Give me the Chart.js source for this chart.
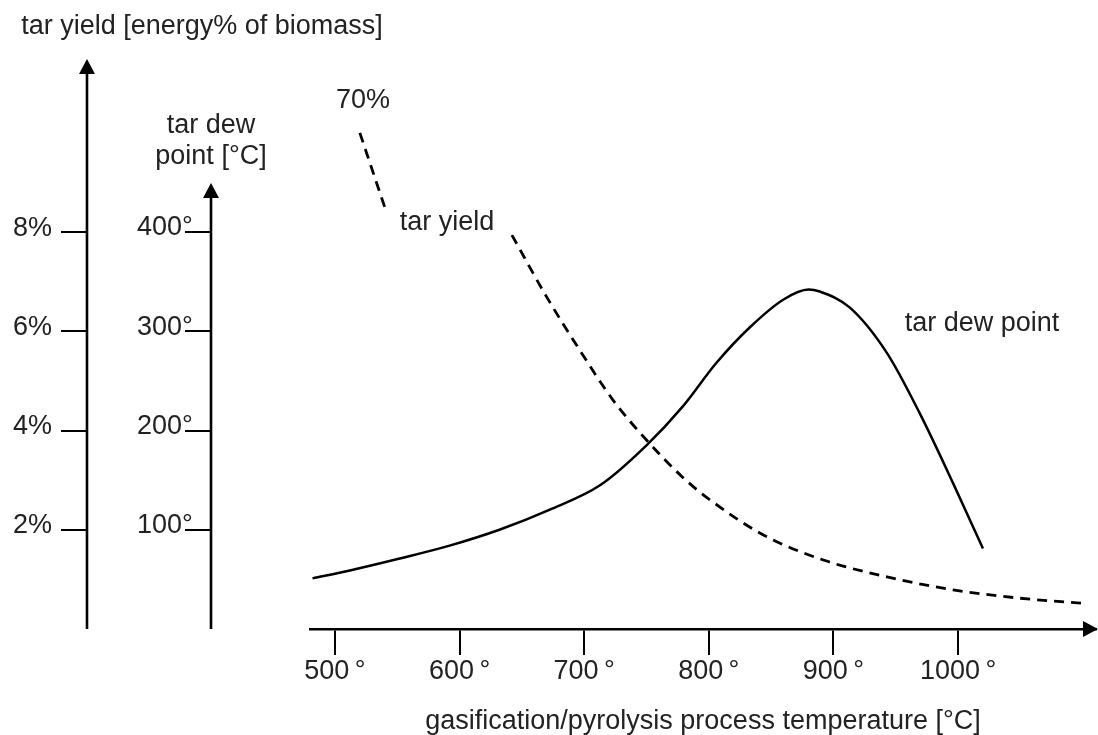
<!DOCTYPE html>
<html>
<head>
<meta charset="utf-8">
<title>tar yield and tar dew point</title>
<script src="https://cdn.jsdelivr.net/npm/chart.js@4.4.1/dist/chart.umd.min.js"></script>
<style>
  html, body { margin: 0; padding: 0; background: #fff; }
  canvas { display: block; }
</style>
</head>
<body>
<canvas id="chart" width="1098" height="735"></canvas>
<script>
// axis ticks
const tempTicks = [500, 600, 700, 800, 900, 1000];
const yieldTicks = [2, 4, 6, 8];
const dewTicks = [100, 200, 300, 400];

// tar dew point [°C] vs process temperature [°C]
const dewTemps = [482, 512, 552, 592, 632, 672, 713, 750, 779, 806, 833, 860, 880, 889, 913, 943, 969, 996, 1020];
const dewPoint = [51, 59, 71, 84, 100, 120, 145, 185, 224, 268, 304, 332, 342, 340, 324, 278, 218, 147, 81];

// tar yield [energy% of biomass]; null = gap left for the "tar yield" label
const yieldTemps = [520, 540, 591, 642, 670, 697, 723, 750, 779, 799, 845, 892, 943, 996, 1050, 1099];
const yieldPct = [10.0, 8.5, null, 7.94, 6.69, 5.6, 4.62, 3.81, 3.06, 2.64, 1.88, 1.39, 1.05, 0.79, 0.62, 0.52];

const FONT = '"Liberation Sans", Arial, Helvetica, sans-serif';
const INK = '#222';
const FS = 27;
const textFont = { family: FONT, size: FS };

const AXIS_W = 2.6;
const YIELD_AXIS_X = 87;
const DEW_AXIS_X = 211;

function arrowUp(ctx, x, tipY) {
    ctx.beginPath();
    ctx.moveTo(x, tipY);
    ctx.lineTo(x - 8, tipY + 15);
    ctx.lineTo(x + 8, tipY + 15);
    ctx.closePath();
    ctx.fill();
}

function arrowRight(ctx, tipX, y) {
    ctx.beginPath();
    ctx.moveTo(tipX, y);
    ctx.lineTo(tipX - 15, y - 8);
    ctx.lineTo(tipX - 15, y + 8);
    ctx.closePath();
    ctx.fill();
}

const axesPlugin = {
    id: 'axesPlugin',
    afterDraw(chart) {
        const { ctx, chartArea, scales } = chart;
        const bottom = chartArea.bottom;
        ctx.save();
        ctx.strokeStyle = '#000';
        ctx.fillStyle = '#000';
        ctx.lineWidth = AXIS_W;

        // vertical axes
        ctx.beginPath();
        ctx.moveTo(YIELD_AXIS_X, bottom);
        ctx.lineTo(YIELD_AXIS_X, 72);
        ctx.moveTo(DEW_AXIS_X, bottom);
        ctx.lineTo(DEW_AXIS_X, 196);
        ctx.stroke();
        arrowUp(ctx, YIELD_AXIS_X, 59);
        arrowUp(ctx, DEW_AXIS_X, 183);

        // tick marks on the left of each vertical axis
        ctx.lineWidth = 2;
        ctx.beginPath();
        yieldTicks.forEach((v) => {
            const y = Math.round(scales.yYield.getPixelForValue(v));
            ctx.moveTo(61, y);
            ctx.lineTo(YIELD_AXIS_X, y);
        });
        dewTicks.forEach((v) => {
            const y = Math.round(scales.yDew.getPixelForValue(v));
            ctx.moveTo(185, y);
            ctx.lineTo(DEW_AXIS_X, y);
        });
        ctx.stroke();

        // x axis arrow
        arrowRight(ctx, 1098, bottom);

        // labels
        ctx.fillStyle = INK;
        ctx.font = `${FS}px ${FONT}`;
        ctx.textAlign = 'center';
        ctx.textBaseline = 'middle';
        ctx.fillText('tar yield [energy% of biomass]', 202, 27);
        ctx.fillText('tar dew', 211, 126);
        ctx.fillText('point [°C]', 211, 157);
        ctx.fillText('70%', 363, 101);
        ctx.fillText('tar yield', 447, 223);
        ctx.fillText('tar dew point', 982, 324);
        ctx.restore();
    }
};

new Chart(document.getElementById('chart'), {
    type: 'line',
    data: {
        datasets: [
            {
                label: 'tar dew point',
                yAxisID: 'yDew',
                data: dewTemps.map((t, i) => ({ x: t, y: dewPoint[i] })),
                borderColor: '#000',
                borderWidth: 2.5,
                pointRadius: 0,
                cubicInterpolationMode: 'monotone',
                fill: false
            },
            {
                label: 'tar yield',
                yAxisID: 'yYield',
                data: yieldTemps.map((t, i) => ({ x: t, y: yieldPct[i] })),
                borderColor: '#000',
                borderWidth: 2.8,
                borderDash: [10, 7],
                pointRadius: 0,
                spanGaps: false,
                cubicInterpolationMode: 'monotone',
                fill: false
            }
        ]
    },
    options: {
        responsive: false,
        animation: false,
        layout: { padding: { top: 60, right: 2, left: 13, bottom: 0 } },
        plugins: {
            legend: { display: false },
            tooltip: { enabled: false }
        },
        scales: {
            x: {
                type: 'linear',
                position: 'bottom',
                min: 480,
                max: 1110.7,
                afterBuildTicks: (s) => { s.ticks = tempTicks.map((v) => ({ value: v })); },
                afterFit: (s) => { s.height = 106; },
                ticks: {
                    callback: (v) => v + '\u2009°',
                    font: textFont,
                    color: INK,
                    padding: 0,
                    maxRotation: 0,
                    autoSkip: false
                },
                grid: {
                    drawOnChartArea: false,
                    drawTicks: true,
                    tickLength: 26,
                    color: '#000',
                    lineWidth: 2
                },
                border: { display: true, color: '#000', width: AXIS_W },
                title: {
                    display: true,
                    text: 'gasification/pyrolysis process temperature [°C]',
                    font: { family: FONT, size: FS, lineHeight: 1 },
                    color: INK,
                    padding: 0
                }
            },
            yDew: {
                type: 'linear',
                position: 'left',
                weight: 0,
                min: 0,
                max: 573.3,
                afterBuildTicks: (s) => { s.ticks = dewTicks.map((v) => ({ value: v })); },
                afterFit: (s) => { s.width = 173; },
                ticks: {
                    callback: (v) => v + '°',
                    font: textFont,
                    color: INK,
                    padding: 0,
                    crossAlign: 'far',
                    labelOffset: -4
                },
                grid: { display: false, drawTicks: false },
                border: { display: false }
            },
            yYield: {
                type: 'linear',
                position: 'left',
                weight: 1,
                min: 0,
                max: 11.47,
                afterBuildTicks: (s) => { s.ticks = yieldTicks.map((v) => ({ value: v })); },
                afterFit: (s) => { s.width = 124; },
                ticks: {
                    callback: (v) => v + '%',
                    font: textFont,
                    color: INK,
                    padding: 0,
                    crossAlign: 'far',
                    labelOffset: -4
                },
                grid: { display: false, drawTicks: false },
                border: { display: false }
            }
        }
    },
    plugins: [axesPlugin]
});
</script>
</body>
</html>
